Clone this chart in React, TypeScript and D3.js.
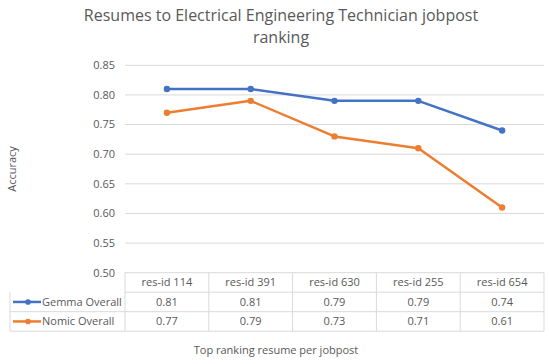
import * as d3 from "d3";

const categories = ["res-id 114", "res-id 391", "res-id 630", "res-id 255", "res-id 654"];
const gemmaValues = [0.81, 0.81, 0.79, 0.79, 0.74];
const nomicValues = [0.77, 0.79, 0.73, 0.71, 0.61];
const yTicks = [0.5, 0.55, 0.6, 0.65, 0.7, 0.75, 0.8, 0.85];

const series = [
  { name: "Gemma Overall", values: gemmaValues, color: "#4472C4" },
  { name: "Nomic Overall", values: nomicValues, color: "#ED7D31" },
];

const W = 550;
const H = 364;
const font = "'Open Sans', sans-serif";
const textColor = "#595959";
const gridColor = "#d9d9d9";

export default function App() {
  const plot = { left: 125, right: 544, top: 65.3, bottom: 272.7 };
  const x = d3.scaleBand<string>().domain(categories).range([plot.left, plot.right]).padding(0);
  const y = d3.scaleLinear().domain([0.5, 0.85]).range([plot.bottom, plot.top]);
  const cx = (c: string) => (x(c) ?? 0) + x.bandwidth() / 2;

  const line = d3
    .line<number>()
    .x((_, i) => cx(categories[i]))
    .y((d) => y(d));

  // data table under the plot
  const rowH = 19.5;
  const headerTop = plot.bottom;
  const rowTop = (i: number) => headerTop + rowH * (i + 1);
  const tableBottom = rowTop(series.length);
  const tableLeft = 10;
  const fmt = d3.format(".2f");

  return (
    <svg
      width={W}
      height={H}
      style={{ position: "absolute", left: 0, top: 0, background: "#fff" }}
      fontFamily={font}
    >
      <rect width={W} height={H} fill="#fff" />
      {/* Title */}
      <text x={281} y={21} textAnchor="middle" fontSize={16} fill={textColor}>
        Resumes to Electrical Engineering Technician jobpost
      </text>
      <text x={281} y={43} textAnchor="middle" fontSize={16} fill={textColor}>
        ranking
      </text>

      {/* Grid + y ticks */}
      {yTicks.map((t) => (
        <g key={t}>
          {t > 0.5 && (
            <line x1={plot.left} x2={plot.right} y1={y(t)} y2={y(t)} stroke={gridColor} strokeWidth={1} />
          )}
          <text x={115} y={y(t)} dy="0.35em" textAnchor="end" fontSize={11} fill={textColor}>
            {fmt(t)}
          </text>
        </g>
      ))}

      {/* Y title */}
      <text
        transform={`translate(16,${(plot.top + plot.bottom) / 2}) rotate(-90)`}
        textAnchor="middle"
        fontSize={11}
        fill={textColor}
      >
        Accuracy
      </text>

      {/* Lines */}
      {series.map((s) => (
        <g key={s.name}>
          <path d={line(s.values) ?? ""} fill="none" stroke={s.color} strokeWidth={2.5} strokeLinejoin="round" />
          {s.values.map((v, i) => (
            <circle key={i} cx={cx(categories[i])} cy={y(v)} r={3.2} fill={s.color} />
          ))}
        </g>
      ))}

      {/* Table */}
      <g stroke={gridColor} strokeWidth={1} fill="none">
        <line x1={plot.left} x2={plot.right} y1={headerTop} y2={headerTop} />
        {[0, 1, 2].map((i) => (
          <line
            key={i}
            x1={i === 0 ? plot.left : tableLeft}
            x2={plot.right}
            y1={rowTop(i)}
            y2={rowTop(i)}
          />
        ))}
        {categories.map((c) => (
          <line key={c} x1={x(c)} x2={x(c)} y1={headerTop} y2={tableBottom} />
        ))}
        <line x1={plot.right} x2={plot.right} y1={headerTop} y2={tableBottom} />
        <line x1={tableLeft} x2={tableLeft} y1={rowTop(0)} y2={tableBottom} />
      </g>
      {categories.map((c) => (
        <text key={c} x={cx(c)} y={headerTop + rowH / 2} dy="0.35em" textAnchor="middle" fontSize={11} fill={textColor}>
          {c}
        </text>
      ))}
      {series.map((s, r) => (
        <g key={s.name}>
          <line
            x1={13}
            x2={41}
            y1={rowTop(r) + rowH / 2}
            y2={rowTop(r) + rowH / 2}
            stroke={s.color}
            strokeWidth={2.5}
          />
          <circle cx={28} cy={rowTop(r) + rowH / 2} r={2.8} fill={s.color} />
          <text x={42} y={rowTop(r) + rowH / 2} dy="0.35em" fontSize={11} fill={textColor}>
            {s.name}
          </text>
          {s.values.map((v, i) => (
            <text
              key={i}
              x={cx(categories[i])}
              y={rowTop(r) + rowH / 2}
              dy="0.35em"
              textAnchor="middle"
              fontSize={11}
              fill={textColor}
            >
              {fmt(v)}
            </text>
          ))}
        </g>
      ))}

      {/* X title */}
      <text x={276} y={354} textAnchor="middle" fontSize={11} fill={textColor}>
        Top ranking resume per jobpost
      </text>
    </svg>
  );
}
